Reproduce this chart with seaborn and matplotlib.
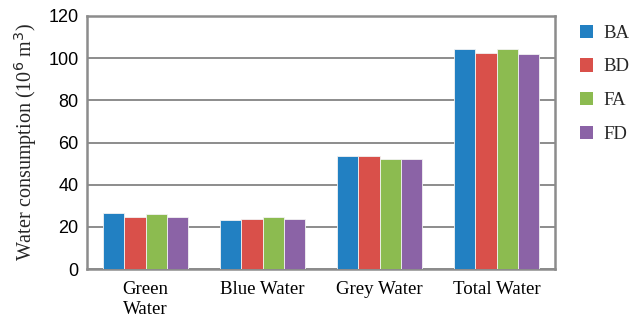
import matplotlib
matplotlib.use("Agg")
import matplotlib.pyplot as plt
from matplotlib.patches import Patch
import seaborn as sns
import pandas as pd

categories = ["Green\nWater", "Blue Water", "Grey Water", "Total Water"]
scenarios = ["BA", "BD", "FA", "FD"]
ba = [26.7, 23.1, 53.5, 104.2]
bd = [24.7, 23.6, 53.5, 102.6]
fa = [26.2, 24.7, 52.2, 104.2]
fd = [24.7, 23.9, 52.2, 101.8]
colors = ["#2280C2", "#D9504A", "#8CBB50", "#8B63A6"]
y_ticks = [0, 20, 40, 60, 80, 100, 120]

rows = []
for name, vals in zip(scenarios, [ba, bd, fa, fd]):
    for cat, v in zip(categories, vals):
        rows.append({"category": cat, "scenario": name, "value": v})
df = pd.DataFrame(rows)

sns.set_theme(style="white")
plt.rcParams["font.family"] = ["Liberation Serif", "DejaVu Serif"]

fig = plt.figure(figsize=(6.3, 3.21), dpi=100)
ax = fig.add_axes([87 / 630, 1 - 269 / 321, (555 - 87) / 630, (269 - 16) / 321])

sns.barplot(data=df, x="category", y="value", hue="scenario",
            palette=colors, saturation=1, width=0.73, gap=0, ax=ax,
            edgecolor="#f2f2f2", linewidth=0.6, legend=False, zorder=3)

grid_color = "#8c8c8c"
ax.set_ylim(0, 120)
ax.set_yticks(y_ticks)
ax.set_yticklabels([str(t) for t in y_ticks], fontfamily="Liberation Sans", fontsize=13)
ax.yaxis.grid(True, color=grid_color, linewidth=1.4, zorder=0)
ax.set_axisbelow(True)
for s in ax.spines.values():
    s.set_color(grid_color)
    s.set_linewidth(1.8)
ax.tick_params(axis="both", length=0, pad=6, colors="black")
ax.tick_params(axis="x", labelsize=13.6, pad=9)
ax.set_xlabel("")
ax.set_ylabel("Water consumption (10$^{6}$ m$^{3}$)", fontsize=14.5, labelpad=7)

handles = [Patch(facecolor=c, edgecolor="none") for c in colors]
fig.legend(handles, scenarios, loc="upper left", bbox_to_anchor=(572 / 630, 1 - 17 / 321),
           frameon=False, fontsize=13.5, handlelength=0.72, handleheight=0.72,
           handletextpad=0.55, labelspacing=0.88, borderaxespad=0)

fig.savefig("out.png", dpi=100)
